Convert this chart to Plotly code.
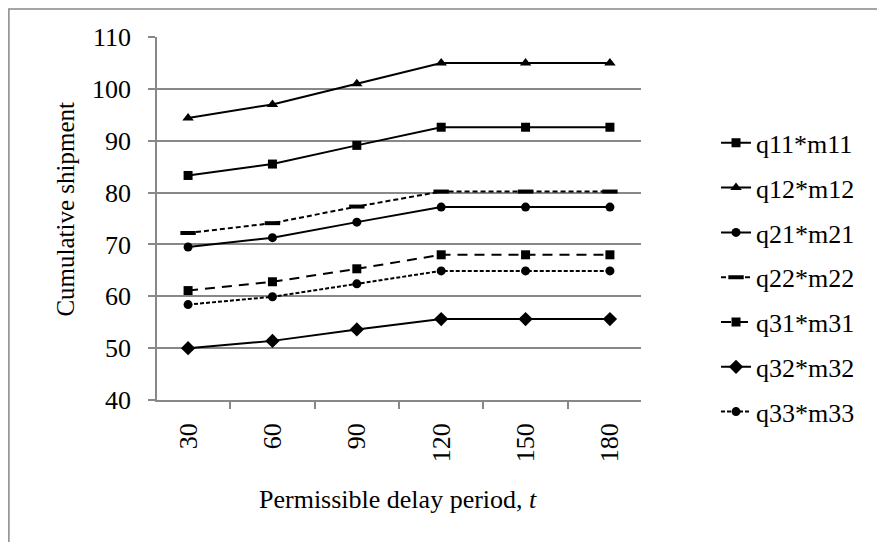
import plotly.graph_objects as go

categories = ["30", "60", "90", "120", "150", "180"]
q11_m11 = [83.3, 85.5, 89.1, 92.6, 92.6, 92.6]
q12_m12 = [94.4, 97.0, 101.0, 105.0, 105.0, 105.0]
q21_m21 = [69.5, 71.3, 74.3, 77.2, 77.2, 77.2]
q22_m22 = [72.2, 74.1, 77.3, 80.2, 80.2, 80.2]
q31_m31 = [61.1, 62.8, 65.3, 68.0, 68.0, 68.0]
q32_m32 = [50.0, 51.4, 53.6, 55.6, 55.6, 55.6]
q33_m33 = [58.4, 59.9, 62.4, 64.9, 64.9, 64.9]
y_ticks = [40, 50, 60, 70, 80, 90, 100, 110]

series = [
    ("q11*m11", q11_m11, "square", "solid", 9),
    ("q12*m12", q12_m12, "triangle-up", "solid", 10),
    ("q21*m21", q21_m21, "circle", "solid", 9),
    ("q22*m22", q22_m22, "line-ew", "5px,3px", 11),
    ("q31*m31", q31_m31, "square", "10px,7px", 9),
    ("q32*m32", q32_m32, "diamond", "solid", 11),
    ("q33*m33", q33_m33, "circle", "4px,2px", 9),
]

FONT = "Liberation Serif, Times New Roman, serif"
FS = 26

fig = go.Figure()
for i, (name, vals, sym, dash, size) in enumerate(series):
    marker = dict(symbol=sym, size=size, color="black")
    if sym == "line-ew":
        marker = dict(symbol=sym, size=size, color="black", line=dict(width=4, color="black"))
    fig.add_trace(go.Scatter(
        x=categories, y=vals, name=name, mode="lines+markers",
        line=dict(color="black", width=2, dash=dash),
        marker=marker, legendgroup=f"g{i}",
    ))

fig.update_layout(
    width=877, height=542,
    margin=dict(l=157, r=236, t=37, b=142, autoexpand=False),
    paper_bgcolor="white", plot_bgcolor="white",
    font=dict(family=FONT, size=FS, color="black"),
    showlegend=True,
    legend=dict(x=1.155, y=0.773, yanchor="top", xanchor="left",
                font=dict(size=FS, family=FONT), tracegroupgap=8,
                itemwidth=30, bgcolor="rgba(0,0,0,0)"),
    xaxis=dict(
        type="category", tickson="boundaries", ticks="outside", ticklen=7,
        tickcolor="#888888", tickwidth=1.5,
        showline=True, linecolor="#888888", linewidth=1.5,
        showgrid=False, tickangle=-90, ticklabelstandoff=11,
        tickfont=dict(size=FS, family=FONT),
    ),
    yaxis=dict(
        range=[40, 110], tickvals=y_ticks, ticks="outside", ticklen=7,
        tickcolor="#888888", tickwidth=1.5,
        showline=True, linecolor="#888888", linewidth=1.5,
        showgrid=True, gridcolor="#888888", gridwidth=1.5,
        zeroline=False, ticklabelstandoff=12,
        tickfont=dict(size=FS, family=FONT),
    ),
    annotations=[
        dict(text="Cumulative shipment", xref="paper", yref="paper",
             x=-0.189, y=0.526, xanchor="center", yanchor="middle",
             textangle=-90, showarrow=False, font=dict(size=FS - 1, family=FONT)),
        dict(text="Permissible delay period, <i>t</i>", xref="paper", yref="paper",
             x=0.498, y=-0.275, xanchor="center", yanchor="middle",
             showarrow=False, font=dict(size=FS, family=FONT)),
    ],
    shapes=[dict(type="rect", xref="paper", yref="paper",
                 x0=-0.306, x1=1.5, y0=-0.4, y1=1.077,
                 line=dict(color="#888888", width=1.5), layer="below")],
)

fig.write_html("out.html", config={"displayModeBar": False},
               post_script="document.body.style.margin='0';document.body.style.overflow='hidden';")
